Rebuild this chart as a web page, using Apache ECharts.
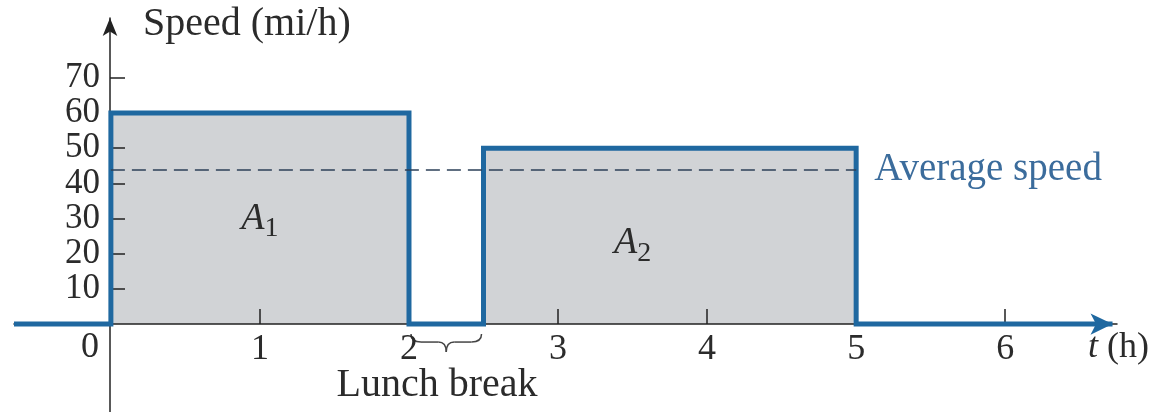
<!DOCTYPE html>
<html>
<head>
<meta charset="utf-8">
<style>
  html, body { margin: 0; padding: 0; background: #fff; }
  #chart { width: 1175px; height: 412px; }
</style>
<script src="https://cdn.jsdelivr.net/npm/echarts@6/dist/echarts.min.js"></script>
</head>
<body>
<div id="chart"></div>
<script>
// time (h) and speed (mi/h) of the step profile
const times  = [-0.65, 0, 0, 2, 2, 2.5, 2.5, 5, 5, 6.72]
const speeds = [0, 0, 60, 60, 0, 0, 50, 50, 0, 0]
const avgSpeed = 44
const yTicks = [10, 20, 30, 40, 50, 60, 70]
const xTicks = [1, 2, 3, 4, 5, 6]

const serif = 'Liberation Serif'
const blue = '#1f68a0'
const ink = '#2b2b2b'

const points = times.map((t, i) => [t, speeds[i]])
const linePoints = points.map((p, i) => i === points.length - 1
  ? { value: p, symbol: 'arrow', symbolSize: [16, 22], symbolRotate: -90 }
  : p)

const chart = echarts.init(document.getElementById('chart'))

chart.setOption({
  animation: false,
  grid: { left: 14, right: 58, top: 18, bottom: 0, containLabel: false, outerBoundsMode: 'none' },
  xAxis: {
    type: 'value', min: -0.65, max: 6.75, z: 2, position: 'bottom', offset: -88,
    axisLine: { onZero: false, lineStyle: { color: '#222', width: 1.5 } },
    axisTick: { inside: true, length: 15, customValues: xTicks, lineStyle: { color: '#222', width: 1.5 } },
    axisLabel: { customValues: xTicks, margin: 8, hideOverlap: false, fontFamily: serif, fontSize: 36, color: ink },
    splitLine: { show: false }
  },
  yAxis: {
    type: 'value', min: -25, max: 87, z: 2, position: 'left', offset: -96,
    axisLine: { onZero: false, symbol: ['none', 'arrow'], symbolSize: [11, 18], lineStyle: { color: '#222', width: 1.5 } },
    axisTick: { inside: true, length: 15, customValues: yTicks, lineStyle: { color: '#222', width: 1.5 } },
    axisLabel: {
      customValues: yTicks, margin: 10, hideOverlap: false, showMinLabel: true, showMaxLabel: true,
      fontFamily: serif, fontSize: 35, lineHeight: 30, color: ink
    },
    splitLine: { show: false }
  },
  series: [
    {
      // gray areas A1 and A2
      type: 'line', z: 1, data: points, symbol: 'none',
      lineStyle: { width: 0 },
      areaStyle: { color: '#d1d3d6', opacity: 1 },
      markPoint: {
        symbol: 'circle', symbolSize: 1,
        itemStyle: { color: 'rgba(0,0,0,0)' },
        label: {
          show: true, position: 'inside',
          formatter: p => '{a|A}{s|' + p.name + '}',
          rich: {
            a: { fontFamily: serif, fontStyle: 'italic', fontSize: 38, color: ink },
            s: { fontFamily: serif, fontSize: 28, color: ink, padding: [20, 0, 0, 0] }
          }
        },
        data: [
          { name: '1', coord: [1, 30] },
          { name: '2', coord: [3.5, 23] }
        ]
      }
    },
    {
      // thick speed curve
      type: 'line', z: 3, data: linePoints, symbol: 'none',
      itemStyle: { color: blue },
      lineStyle: { color: blue, width: 5, join: 'miter' },
      markLine: {
        silent: true, symbol: 'none',
        lineStyle: { color: '#2c4058', width: 1.5, type: [14, 7] },
        label: {
          show: true, position: 'end', distance: 18,
          formatter: 'Average speed',
          fontFamily: serif, fontSize: 39, color: '#3b6c9c'
        },
        data: [[{ coord: [0, avgSpeed] }, { coord: [5, avgSpeed] }]]
      }
    }
  ]
})

// brace under the lunch break, placed from data coordinates
const b1 = chart.convertToPixel({ gridIndex: 0 }, [2, 0])
const b2 = chart.convertToPixel({ gridIndex: 0 }, [2.5, 0])
const x1 = b1[0] + 2, x2 = b2[0] - 2, y0 = b1[1] + 10, xm = (x1 + x2) / 2
const braceStyle = { stroke: '#444', lineWidth: 1.5, fill: 'none' }
const braceParts = [
  { type: 'bezierCurve', shape: { x1: x1, y1: y0, cpx1: x1, cpy1: y0 + 8, x2: x1 + 10, y2: y0 + 8 } },
  { type: 'line', shape: { x1: x1 + 10, y1: y0 + 8, x2: xm - 8, y2: y0 + 8 } },
  { type: 'bezierCurve', shape: { x1: xm - 8, y1: y0 + 8, cpx1: xm, cpy1: y0 + 8, x2: xm, y2: y0 + 18 } },
  { type: 'bezierCurve', shape: { x1: xm, y1: y0 + 18, cpx1: xm, cpy1: y0 + 8, x2: xm + 8, y2: y0 + 8 } },
  { type: 'line', shape: { x1: xm + 8, y1: y0 + 8, x2: x2 - 10, y2: y0 + 8 } },
  { type: 'bezierCurve', shape: { x1: x2 - 10, y1: y0 + 8, cpx1: x2, cpy1: y0 + 8, x2: x2, y2: y0 } }
].map(p => Object.assign(p, { style: braceStyle }))

chart.setOption({
  graphic: [
    { type: 'text', x: 143, y: 24, style: { text: 'Speed (mi/h)', font: `40px "${serif}"`, fill: ink, verticalAlign: 'middle' } },
    { type: 'text', x: 90, y: 348, style: { text: '0', font: `36px "${serif}"`, fill: ink, align: 'center', verticalAlign: 'middle' } },
    { type: 'text', x: 1088, y: 348, style: {
      text: '{t|t}{h| (h)}', verticalAlign: 'middle',
      rich: {
        t: { fontFamily: serif, fontStyle: 'italic', fontSize: 36, fill: ink },
        h: { fontFamily: serif, fontSize: 36, fill: ink }
      }
    } },
    { type: 'text', x: 437, y: 385, style: { text: 'Lunch break', font: `40px "${serif}"`, fill: ink, align: 'center', verticalAlign: 'middle' } },
    { type: 'group', children: braceParts }
  ]
})
</script>
</body>
</html>
